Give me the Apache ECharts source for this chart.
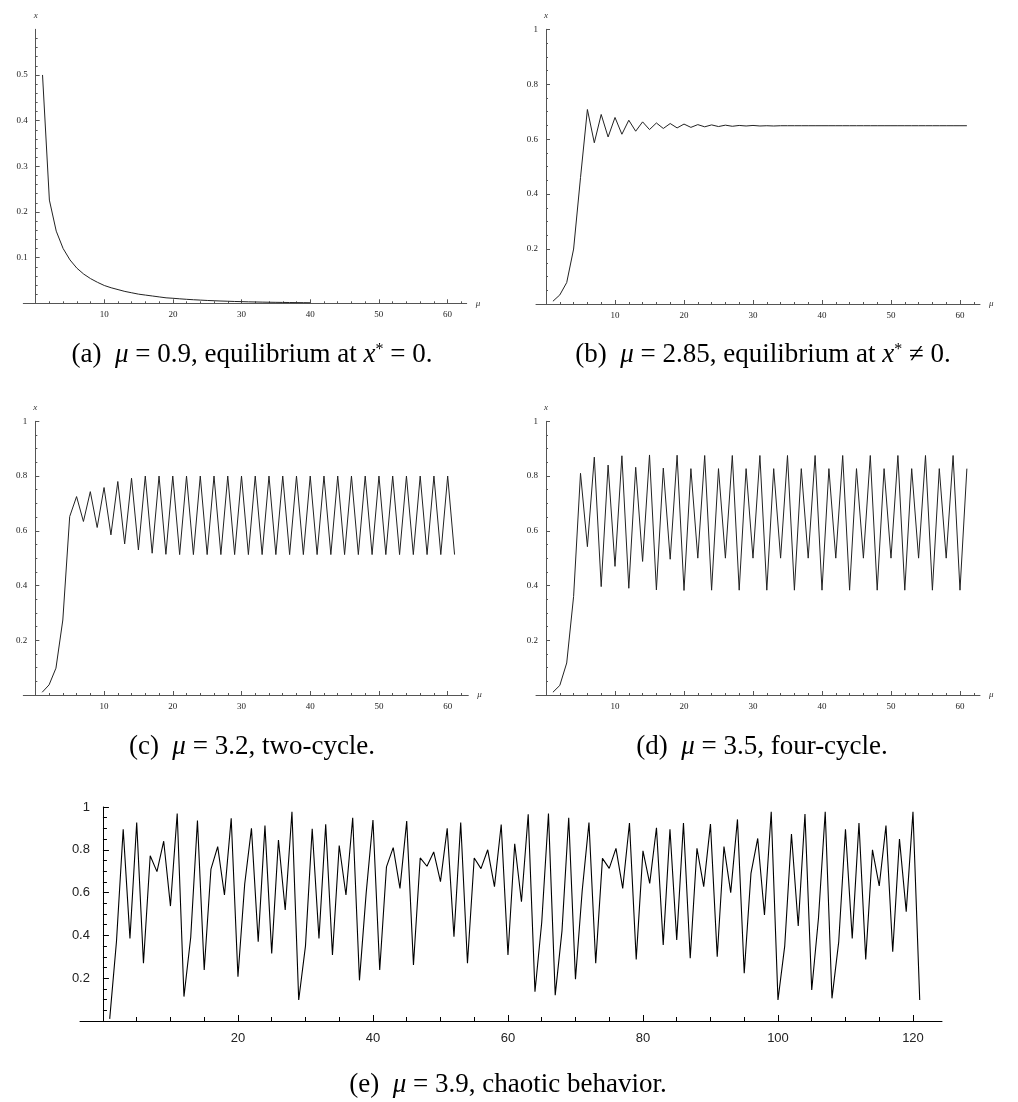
<!DOCTYPE html>
<html>
<head>
<meta charset="utf-8">
<script src="https://cdn.jsdelivr.net/npm/echarts@6/dist/echarts.min.js"></script>
<style>
  html, body { margin: 0; padding: 0; background: #fff; }
  #main { width: 1018px; height: 1102px; }
</style>
</head>
<body>
<div id="main"></div>
<script>
// values, point n = 1, 2, 3, ...
// (a) mu = 0.9
const valsA = [0.5, 0.226, 0.158, 0.12, 0.095, 0.077, 0.064, 0.054, 0.046, 0.039,
  0.034, 0.03, 0.026, 0.023, 0.02, 0.018, 0.016, 0.014, 0.012, 0.011,
  0.0098, 0.0087, 0.0078, 0.007, 0.0062, 0.0056, 0.005, 0.0045, 0.004, 0.0036,
  0.0032, 0.0029, 0.0026, 0.0023, 0.0021, 0.0019, 0.0017, 0.0015, 0.0014, 0.0012];

// (b) mu = 2.85
const valsB = [0.01, 0.033, 0.078, 0.2, 0.46, 0.708, 0.587, 0.69, 0.608, 0.679,
  0.618, 0.669, 0.629, 0.663, 0.635, 0.659, 0.639, 0.657, 0.641, 0.655,
  0.643, 0.653, 0.645, 0.652, 0.646, 0.651, 0.647, 0.65, 0.648, 0.65,
  0.648, 0.649, 0.648, 0.649, 0.649, 0.649, 0.649, 0.649, 0.649, 0.649,
  0.649, 0.649, 0.649, 0.649, 0.649, 0.649, 0.649, 0.649, 0.649, 0.649,
  0.649, 0.649, 0.649, 0.649, 0.649, 0.649, 0.649, 0.649, 0.649, 0.649,
  0.649];

// (c) mu = 3.2
const valsC = [0.01, 0.037, 0.098, 0.274, 0.652, 0.725, 0.634, 0.743, 0.612, 0.758,
  0.585, 0.78, 0.552, 0.792, 0.53, 0.8, 0.518, 0.8, 0.514, 0.8,
  0.513, 0.8, 0.513, 0.8, 0.513, 0.8, 0.513, 0.8, 0.513, 0.8,
  0.513, 0.8, 0.513, 0.8, 0.513, 0.8, 0.513, 0.8, 0.513, 0.8,
  0.513, 0.8, 0.513, 0.8, 0.513, 0.8, 0.513, 0.8, 0.513, 0.8,
  0.513, 0.8, 0.513, 0.8, 0.513, 0.8, 0.513, 0.8, 0.513, 0.8,
  0.513];

// (d) mu = 3.5
const valsD = [0.01, 0.035, 0.117, 0.36, 0.81, 0.542, 0.869, 0.396, 0.84, 0.47,
  0.874, 0.39, 0.832, 0.488, 0.877, 0.384, 0.829, 0.496, 0.876, 0.382,
  0.827, 0.5, 0.875, 0.383, 0.827, 0.5, 0.875, 0.383, 0.827, 0.5,
  0.875, 0.383, 0.827, 0.5, 0.875, 0.383, 0.827, 0.5, 0.875, 0.383,
  0.827, 0.5, 0.875, 0.383, 0.827, 0.5, 0.875, 0.383, 0.827, 0.5,
  0.875, 0.383, 0.827, 0.5, 0.875, 0.383, 0.827, 0.5, 0.875, 0.383,
  0.827];

// (e) mu = 3.9
const valsE = [0.01, 0.37, 0.896, 0.386, 0.928, 0.27, 0.772, 0.698, 0.84, 0.537,
  0.97, 0.114, 0.39, 0.937, 0.238, 0.71, 0.815, 0.589, 0.947, 0.207,
  0.64, 0.9, 0.37, 0.913, 0.316, 0.846, 0.519, 0.978, 0.098, 0.35,
  0.898, 0.386, 0.919, 0.308, 0.82, 0.589, 0.95, 0.19, 0.6, 0.939,
  0.238, 0.72, 0.81, 0.62, 0.934, 0.262, 0.762, 0.723, 0.79, 0.651,
  0.9, 0.394, 0.928, 0.27, 0.762, 0.712, 0.8, 0.628, 0.918, 0.308,
  0.828, 0.557, 0.966, 0.137, 0.46, 0.97, 0.121, 0.42, 0.95, 0.195,
  0.61, 0.927, 0.27, 0.76, 0.713, 0.807, 0.62, 0.925, 0.288, 0.795,
  0.643, 0.903, 0.355, 0.896, 0.379, 0.925, 0.293, 0.807, 0.628, 0.92,
  0.3, 0.815, 0.6, 0.942, 0.223, 0.69, 0.853, 0.495, 0.978, 0.098,
  0.35, 0.874, 0.444, 0.967, 0.145, 0.48, 0.978, 0.106, 0.37, 0.896,
  0.386, 0.925, 0.288, 0.8, 0.631, 0.913, 0.324, 0.85, 0.511, 0.978,
  0.098];

// tick positions
const xMajor = [10, 20, 30, 40, 50, 60];
const xMinor = [2, 4, 6, 8, 12, 14, 16, 18, 22, 24, 26, 28, 32, 34, 36, 38,
  42, 44, 46, 48, 52, 54, 56, 58, 62];
const yMajorA = [0.1, 0.2, 0.3, 0.4, 0.5];
const yMinorA = [0.02, 0.04, 0.06, 0.08, 0.12, 0.14, 0.16, 0.18, 0.22, 0.24, 0.26, 0.28,
  0.32, 0.34, 0.36, 0.38, 0.42, 0.44, 0.46, 0.48, 0.52, 0.54, 0.56, 0.58];
const yMajor = [0.2, 0.4, 0.6, 0.8, 1];
const yMinor = [0.05, 0.1, 0.15, 0.25, 0.3, 0.35, 0.45, 0.5, 0.55, 0.65, 0.7, 0.75,
  0.85, 0.9, 0.95];
const xMajorE = [20, 40, 60, 80, 100, 120];
const xMinorE = [5, 10, 15, 25, 30, 35, 45, 50, 55, 65, 70, 75, 85, 90, 95,
  105, 110, 115];

const grids = [], xAxes = [], yAxes = [], series = [];

function addPanel(p) {
    const g = grids.length;
    const xi = xAxes.length, yi = yAxes.length;
    grids.push({ left: p.left, top: p.top, width: p.width, height: p.height, outerBoundsMode: 'none' });

    // y axis sits at x = 0, a little inside the grid's left edge
    const yOffset = -p.width * (0 - p.xMin) / (p.xMax - p.xMin);
    const lab = { fontFamily: p.font, fontSize: p.fontSize, color: p.labelColor };
    const nameStyle = { fontFamily: 'Liberation Serif', fontStyle: 'italic', fontSize: 9, color: '#333' };

    xAxes.push({
        type: 'value', gridIndex: g, position: 'bottom', min: p.xMin, max: p.xMax,
        name: p.names ? 'μ' : '', nameLocation: 'end', nameGap: 9, nameTextStyle: nameStyle,
        axisLine: { onZero: false, lineStyle: { color: p.axisColor, width: 1 } },
        axisTick: { inside: true, length: p.tickLen[0], customValues: p.xMajor, lineStyle: { color: p.axisColor } },
        axisLabel: Object.assign({ customValues: p.xMajor, margin: p.marginX }, lab),
        splitLine: { show: false }
    });
    xAxes.push({
        type: 'value', gridIndex: g, position: 'bottom', min: p.xMin, max: p.xMax,
        axisLine: { show: false, onZero: false },
        axisTick: { inside: true, length: p.tickLen[1], customValues: p.xMinor, lineStyle: { color: p.axisColor } },
        axisLabel: { show: false },
        splitLine: { show: false }
    });
    yAxes.push({
        type: 'value', gridIndex: g, position: 'left', offset: yOffset, min: 0, max: p.yMax,
        name: p.names ? 'x' : '', nameLocation: 'end', nameGap: 9, nameTextStyle: nameStyle,
        axisLine: { onZero: false, lineStyle: { color: p.axisColor, width: 1 } },
        axisTick: { inside: true, length: p.tickLen[0], customValues: p.yMajor, lineStyle: { color: p.axisColor } },
        axisLabel: Object.assign({ customValues: p.yMajor, margin: p.marginY }, lab),
        splitLine: { show: false }
    });
    yAxes.push({
        type: 'value', gridIndex: g, position: 'left', offset: yOffset, min: 0, max: p.yMax,
        axisLine: { show: false, onZero: false },
        axisTick: { inside: true, length: p.tickLen[1], customValues: p.yMinor, lineStyle: { color: p.axisColor } },
        axisLabel: { show: false },
        splitLine: { show: false }
    });
    series.push({
        type: 'line', xAxisIndex: xi, yAxisIndex: yi,
        data: p.vals.map((v, i) => [i + 1, v]),
        showSymbol: false, smooth: false,
        lineStyle: { color: p.lineColor, width: p.lineWidth },
        emphasis: { disabled: true }
    });
}

const small = {
    font: 'Liberation Serif', fontSize: 9, labelColor: '#222', marginX: 7, marginY: 8,
    axisColor: '#555', tickLen: [4, 2], names: true,
    lineColor: '#222', lineWidth: 1, xMajor: xMajor, xMinor: xMinor
};

// (a)
addPanel(Object.assign({}, small, {
    left: 23.3, top: 29.3, width: 443.4, height: 274, xMin: -1.8, xMax: 62.8,
    yMax: 0.6, yMajor: yMajorA, yMinor: yMinorA, vals: valsA
}));
// (b)
addPanel(Object.assign({}, small, {
    left: 536, top: 29.3, width: 444, height: 274.7, xMin: -1.45, xMax: 62.9,
    yMax: 1, yMajor: yMajor, yMinor: yMinor, vals: valsB
}));
// (c)
addPanel(Object.assign({}, small, {
    left: 23.3, top: 421.3, width: 445, height: 273.7, xMin: -1.75, xMax: 63.0,
    yMax: 1, yMajor: yMajor, yMinor: yMinor, vals: valsC
}));
// (d)
addPanel(Object.assign({}, small, {
    left: 536, top: 421.3, width: 444, height: 273.7, xMin: -1.45, xMax: 62.9,
    yMax: 1, yMajor: yMajor, yMinor: yMinor, vals: valsD
}));
// (e)
addPanel({
    font: 'Liberation Sans', fontSize: 13, labelColor: '#222', marginX: 11, marginY: 13,
    axisColor: '#000', tickLen: [6, 4], names: false,
    lineColor: '#000', lineWidth: 1.1,
    left: 80, top: 807, width: 862, height: 214, xMin: -3.4, xMax: 124.3,
    yMax: 1, xMajor: xMajorE, xMinor: xMinorE, yMajor: yMajor, yMinor: yMinor, vals: valsE
});

// captions
const capRich = {
    n: { fontFamily: 'Liberation Serif', fontSize: 27, color: '#000' },
    m: { fontFamily: 'Liberation Serif', fontSize: 27, fontStyle: 'italic', color: '#000' },
    s: { fontFamily: 'Liberation Serif', fontSize: 16, color: '#000', verticalAlign: 'top', padding: [0, 0, 9, 0] }
};
function caption(x, y, text) {
    return {
        type: 'text', x: x, y: y,
        style: { text: text, rich: capRich, align: 'center', verticalAlign: 'middle',
            fontFamily: 'Liberation Serif', fontSize: 27, fill: '#000' }
    };
}

const chart = echarts.init(document.getElementById('main'), null, { renderer: 'canvas' });
chart.setOption({
    animation: false,
    backgroundColor: '#fff',
    grid: grids,
    xAxis: xAxes,
    yAxis: yAxes,
    series: series,
    graphic: [
        caption(252, 355, '{n|(a)  }{m|μ}{n| = 0.9, equilibrium at }{m|x}{s|*}{n| = 0.}'),
        caption(763, 355, '{n|(b)  }{m|μ}{n| = 2.85, equilibrium at }{m|x}{s|*}{n| ≠ 0.}'),
        caption(252, 747, '{n|(c)  }{m|μ}{n| = 3.2, two-cycle.}'),
        caption(762, 747, '{n|(d)  }{m|μ}{n| = 3.5, four-cycle.}'),
        caption(508, 1085, '{n|(e)  }{m|μ}{n| = 3.9, chaotic behavior.}')
    ]
});
</script>
</body>
</html>
